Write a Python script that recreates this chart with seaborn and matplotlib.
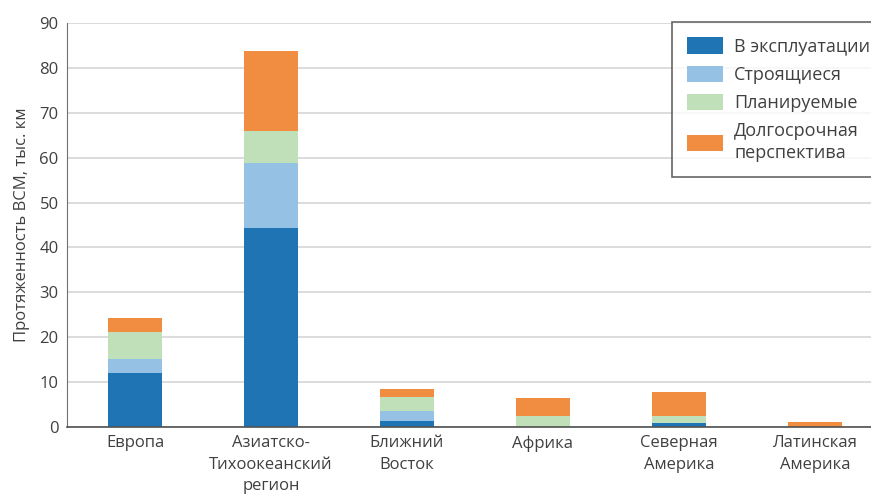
import pandas as pd
import seaborn as sns
import matplotlib.pyplot as plt
import numpy as np

# data (thousand km)
regions = ['Европа', 'Азиатско-\nТихоокеанский\nрегион', 'Ближний\nВосток',
           'Африка', 'Северная\nАмерика', 'Латинская\nАмерика']
in_service = [12.0, 44.3, 1.4, 0.0, 0.8, 0.0]
building = [3.1, 14.5, 2.2, 0.0, 0.0, 0.0]
planned = [6.1, 7.1, 3.0, 2.4, 1.6, 0.0]
long_term = [3.1, 17.8, 1.9, 4.1, 5.5, 1.1]

series = ['В эксплуатации', 'Строящиеся', 'Планируемые', 'Долгосрочная\nперспектива']
values = [in_service, building, planned, long_term]
colors = ['#1f74b3', '#95c1e4', '#c0e0b9', '#f08d41']

sns.set_style('white')
plt.rcParams['font.family'] = ['Open Sans', 'DejaVu Sans']

fig = plt.figure(figsize=(8.71, 4.97), dpi=100)
# axes run past the right edge like in the cropped original
ax = fig.add_axes([67 / 871, 1 - 427 / 497, 816 / 871, 404 / 497])

bottom = np.zeros(len(regions))
for name, vals, col in zip(series, values, colors):
    df = pd.DataFrame({'region': regions, 'value': vals})
    sns.barplot(data=df, x='region', y='value', color=col, width=0.4,
                bottom=bottom, label=name, ax=ax, saturation=1, linewidth=0)
    bottom = bottom + np.array(vals)

ax.set_xlim(-0.5, 5.5)
ax.set_ylim(0, 90)
ax.set_yticks(range(0, 91, 10))
ax.yaxis.grid(True, color='#d9d9d9', linewidth=1.3)
ax.set_axisbelow(True)
for s in ['top', 'right']:
    ax.spines[s].set_visible(False)
ax.spines['left'].set_color('#707070')
ax.spines['bottom'].set_color('#505050')
ax.spines['bottom'].set_linewidth(1.2)

ax.tick_params(axis='both', labelsize=12, colors='#404040', length=0, pad=6)
for lbl in ax.get_xticklabels():
    lbl.set_linespacing(1.45)
ax.set_xlabel('')
ax.set_ylabel('Протяженность ВСМ, тыс. км', fontsize=12, color='#404040', labelpad=7)

leg = ax.legend(loc='upper left', bbox_to_anchor=(672 / 871, 1 - 22 / 497),
                bbox_transform=fig.transFigure, frameon=True, fancybox=False,
                fontsize=13, handlelength=2.0, handleheight=1.0,
                handletextpad=0.6, borderpad=0.85, labelspacing=0.55,
                borderaxespad=0)
leg.get_frame().set_edgecolor('#404040')
leg.get_frame().set_linewidth(1.2)
for t in leg.get_texts():
    t.set_color('#404040')
    t.set_linespacing(1.3)

fig.savefig('out.png', dpi=100)
